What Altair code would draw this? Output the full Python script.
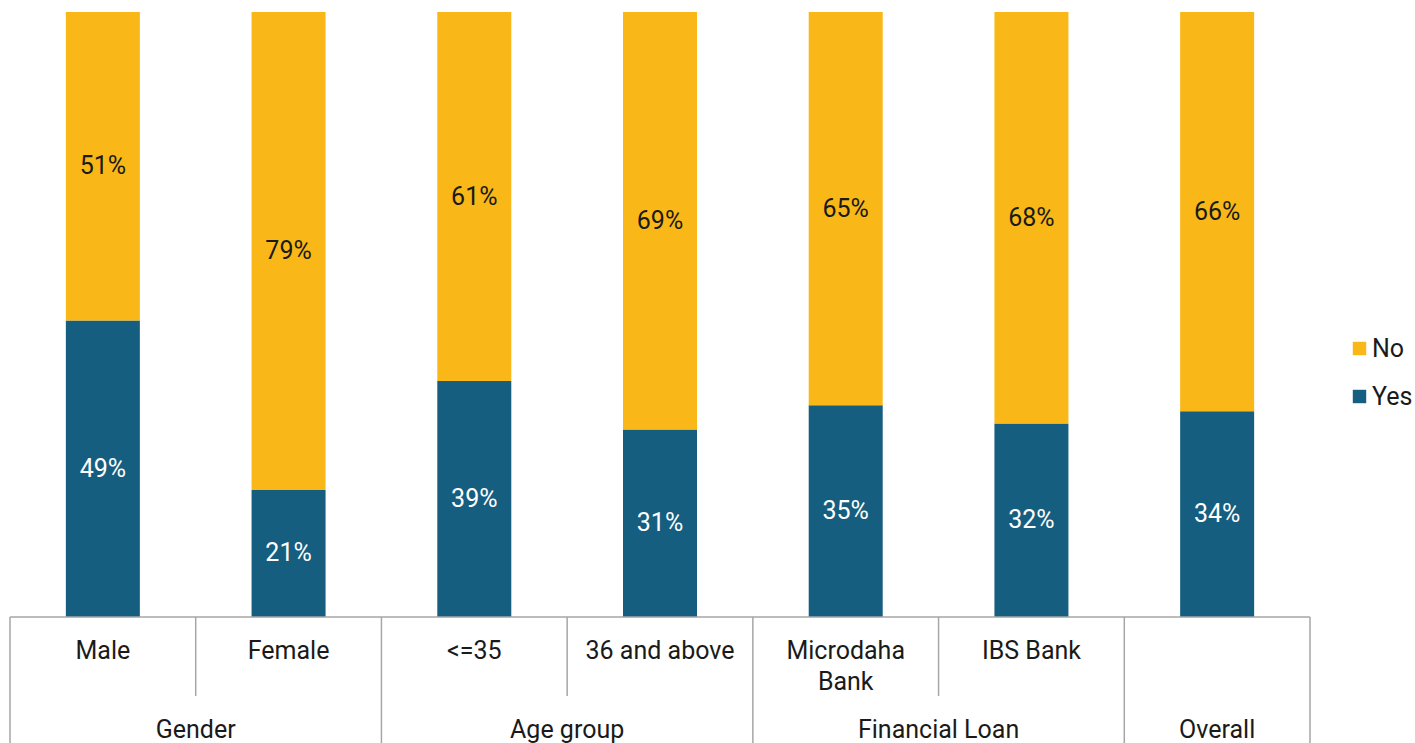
import altair as alt
import pandas as pd

categories = ["Male", "Female", "<=35", "36 and above", "Microdaha\nBank", "IBS Bank", ""]
yes_values = [49, 21, 39, 31, 35, 32, 34]
no_values = [51, 79, 61, 69, 65, 68, 66]
groups = ["Gender", "Age group", "Financial Loan", "Overall"]
group_spans = [2, 2, 2, 1]

YELLOW = "#F9B817"
BLUE = "#165E7F"
LINE = "#a6a6a6"
FONT = "Roboto"
FS = 25

rows = []
for i, c in enumerate(categories):
    rows.append({"idx": i, "cat": c, "resp": "Yes", "ord": 0, "value": yes_values[i]})
    rows.append({"idx": i, "cat": c, "resp": "No", "ord": 1, "value": no_values[i]})
df = pd.DataFrame(rows)

cat_df = pd.DataFrame({"idx": list(range(len(categories))), "cat": categories})

g_rows = []
start = 0
for g, s in zip(groups, group_spans):
    g_rows.append({"group": g, "start": start, "end": start + s})
    start += s
grp_df = pd.DataFrame(g_rows)

group_bounds = set([0] + list(grp_df["end"]))
bnd_df = pd.DataFrame({
    "b": list(range(len(categories) + 1)),
    "long": [b in group_bounds for b in range(len(categories) + 1)],
})

xscale = alt.Scale(domain=[0, len(categories)], nice=False, zero=False, padding=0)
yscale = alt.Scale(domain=[0, 100], nice=False, padding=0)

base = alt.Chart(df).transform_calculate(pos="datum.idx + 0.5")

bars = base.mark_bar(width=74).encode(
    x=alt.X("pos:Q", scale=xscale, axis=None),
    y=alt.Y("value:Q", stack="zero", scale=yscale, axis=None),
    color=alt.Color(
        "resp:N",
        scale=alt.Scale(domain=["No", "Yes"], range=[YELLOW, BLUE]),
        legend=alt.Legend(
            title=None,
            orient="none",
            legendX=1337,
            legendY=324,
            symbolType="square",
            symbolSize=180,
            symbolStrokeWidth=0,
            labelFontSize=FS,
            labelFont=FONT,
            labelColor="#1a1a1a",
            rowPadding=22,
            labelOffset=0,
            padding=0,
        ),
    ),
    order=alt.Order("ord:Q"),
)

labels = (
    base.transform_stack(
        stack="value", groupby=["idx"], as_=["y0", "y1"], sort=[alt.SortField("ord")]
    )
    .transform_calculate(mid="(datum.y0 + datum.y1) / 2", lab="datum.value + '%'")
    .mark_text(font=FONT, fontSize=FS, baseline="middle")
    .encode(
        x=alt.X("pos:Q", scale=xscale),
        y=alt.Y("mid:Q", scale=yscale),
        text="lab:N",
        color=alt.Color(
            "resp:N",
            scale=alt.Scale(domain=["No", "Yes"], range=["#1a1a1a", "#ffffff"]),
            legend=None,
        ),
    )
)

hline = alt.Chart(pd.DataFrame({"a": [0], "b": [len(categories)]})).mark_rule(
    color=LINE, strokeWidth=1.5
).encode(
    x=alt.X("a:Q", scale=xscale), x2="b:Q", y=alt.value(605)
)

vlines_long = alt.Chart(bnd_df).transform_filter("datum.long").mark_rule(
    color=LINE, strokeWidth=1.5
).encode(
    x=alt.X("b:Q", scale=xscale),
    y=alt.value(605),
    y2=alt.value(740),
)

vlines_short = alt.Chart(bnd_df).transform_filter("!datum.long").mark_rule(
    color=LINE, strokeWidth=1.5
).encode(
    x=alt.X("b:Q", scale=xscale),
    y=alt.value(605),
    y2=alt.value(684),
)

cat_text = alt.Chart(cat_df).transform_calculate(pos="datum.idx + 0.5").mark_text(
    font=FONT, fontSize=FS, baseline="top", lineBreak="\n", lineHeight=31, color="#1a1a1a"
).encode(
    x=alt.X("pos:Q", scale=xscale),
    y=alt.value(627),
    text="cat:N",
)

grp_text = alt.Chart(grp_df).transform_calculate(
    pos="(datum.start + datum.end) / 2"
).mark_text(font=FONT, fontSize=FS, baseline="middle", color="#1a1a1a").encode(
    x=alt.X("pos:Q", scale=xscale),
    y=alt.value(718),
    text="group:N",
)

chart = (
    alt.layer(bars, labels, hline, vlines_long, vlines_short, cat_text, grp_text)
    .resolve_scale(color="independent")
    .properties(
        width=1300,
        height=605,
        padding={"left": 10, "top": 12, "right": 105, "bottom": 126},
        autosize=alt.AutoSizeParams(type="none"),
        background="white",
    )
    .configure_view(stroke=None)
)

chart.save("out.html", embed_options={"renderer": "svg", "actions": False})
